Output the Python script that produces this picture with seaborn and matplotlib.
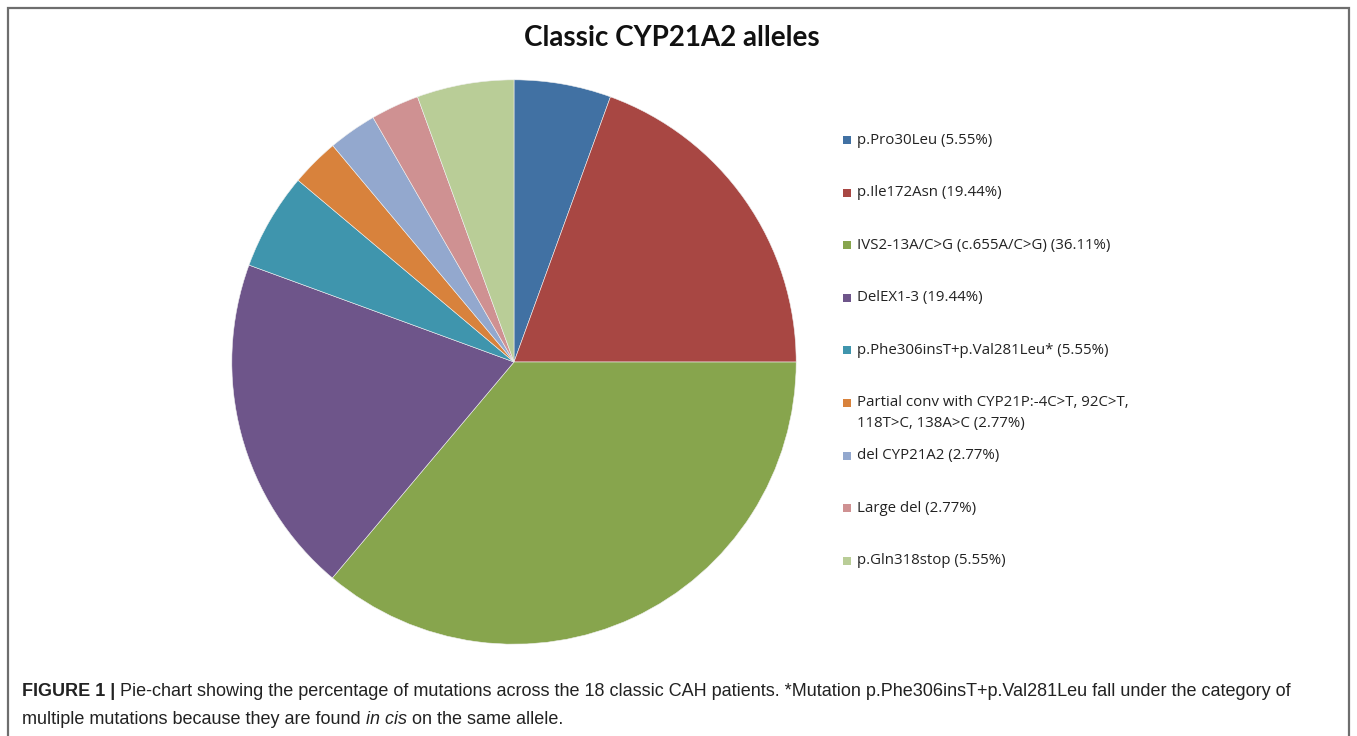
import seaborn as sns
import pandas as pd
import matplotlib.pyplot as plt
from matplotlib.patches import Rectangle

# --- Classic CYP21A2 alleles: pie chart with side legend and caption ---

alleles = ['p.Pro30Leu', 'p.Ile172Asn', 'IVS2-13A/C>G (c.655A/C>G)', 'DelEX1-3',
           'p.Phe306insT+p.Val281Leu*', 'Partial conv with CYP21P:-4C>T, 92C>T,\n118T>C, 138A>C',
           'del CYP21A2', 'Large del', 'p.Gln318stop']
percent = [5.55, 19.44, 36.11, 19.44, 5.55, 2.77, 2.77, 2.77, 5.55]
colors = ['#4171A3', '#A84743', '#87A54D', '#6E558A', '#3F95AD',
          '#D8823C', '#93A8CE', '#CF9192', '#B9CD97']

df = pd.DataFrame({'allele': alleles, 'percent': percent})

sns.set_theme(style='white')
plt.rcParams['font.family'] = ['Open Sans', 'DejaVu Sans']

W, H = 1357, 736
fig = plt.figure(figsize=(W / 100, H / 100), dpi=100)

# outer frame of the figure panel
fig.patches.append(Rectangle((8 / W, -0.05), (1349 - 8) / W, 1 - 8 / H + 0.05,
                             transform=fig.transFigure, fill=False,
                             edgecolor='#6e6e6e', linewidth=1.6))

cx, cy, r = 514, 362, 285
ax = fig.add_axes([(cx - r) / W, 1 - (cy + r) / H, 2 * r / W, 2 * r / H])
palette = sns.color_palette(colors)
wedges, _ = ax.pie(df['percent'], colors=palette, startangle=90, counterclock=False,
                   wedgeprops=dict(linewidth=0.4, edgecolor='#f0f0f0'))
ax.set_aspect('equal')
ax.set_xlim(-1.01, 1.01)
ax.set_ylim(-1.01, 1.01)
ax.axis('off')

fig.text(672 / W, 1 - 38 / H, 'Classic CYP21A2 alleles', ha='center', va='center',
         fontsize=20, fontweight='bold', family=['Lato', 'DejaVu Sans'], color='#111111')

# legend, one entry per slice
y0, step = 140, 52.6
for i, (lab, val) in enumerate(zip(df['allele'], df['percent'])):
    y = y0 + i * step
    fig.patches.append(Rectangle((843 / W, 1 - (y + 4) / H), 8 / W, 8 / H,
                                 transform=fig.transFigure, facecolor=palette[i],
                                 edgecolor='none'))
    lines = f'{lab} ({val:.2f}%)'.split('\n')
    for j, ln in enumerate(lines):
        fig.text(857 / W, 1 - (y + j * 21) / H, ln, ha='left', va='center',
                 fontsize=10.8, color='#222222')

# caption
renderer = fig.canvas.get_renderer()
cap_font = dict(fontsize=13, family=['Liberation Sans', 'DejaVu Sans'], color='#222222',
                va='center', ha='left')

def put(x, y, s, **kw):
    t = fig.text(x / W, 1 - y / H, s, **{**cap_font, **kw})
    return x + t.get_window_extent(renderer).width

x = put(22, 692, 'FIGURE 1 | ', fontweight='bold')
put(x, 692, 'Pie-chart showing the percentage of mutations across the 18 classic CAH patients. '
            '*Mutation p.Phe306insT+p.Val281Leu fall under the category of')
x = put(22, 719, 'multiple mutations because they are found ')
x = put(x, 719, 'in cis', style='italic')
put(x, 719, ' on the same allele.')

fig.savefig('out.png', dpi=100)
